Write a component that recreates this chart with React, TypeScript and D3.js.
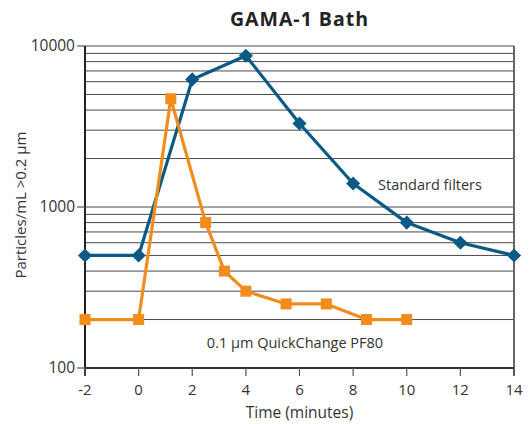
import React from "react";
import * as d3 from "d3";

// Time in minutes
const standardTimes = [-2, 0, 2, 4, 6, 8, 10, 12, 14];
const standardValues = [500, 500, 6200, 8700, 3300, 1400, 800, 600, 500];

const quickTimes = [-2, 0, 1.2, 2.5, 3.2, 4, 5.5, 7, 8.5, 10];
const quickValues = [200, 200, 4700, 800, 400, 300, 250, 250, 200, 200];

const xTicks = [-2, 0, 2, 4, 6, 8, 10, 12, 14];
const yMajorTicks = [100, 1000, 10000];

const W = 531;
const H = 424;
const margin = { top: 46, right: 17, bottom: 56, left: 85 };

const BLUE = "#0b5a85";
const ORANGE = "#f28c1c";
const FONT = "'Open Sans', 'DejaVu Sans', sans-serif";

export default function App() {
  const x = d3.scaleLinear().domain([-2, 14]).range([margin.left, W - margin.right]);
  const y = d3.scaleLog().domain([100, 10000]).range([H - margin.bottom, margin.top]);

  const gridValues: number[] = [];
  for (const base of [100, 1000]) {
    for (let k = 2; k <= 10; k++) gridValues.push(base * k);
  }

  const line = d3
    .line<[number, number]>()
    .x((d) => x(d[0]))
    .y((d) => y(d[1]));

  const standardPts: [number, number][] = standardTimes.map((t, i) => [t, standardValues[i]]);
  const quickPts: [number, number][] = quickTimes.map((t, i) => [t, quickValues[i]]);

  const x0 = margin.left;
  const x1 = W - margin.right;
  const y0 = H - margin.bottom;
  const y1 = margin.top;

  return (
    <svg
      width={W}
      height={H}
      style={{ position: "absolute", left: 0, top: 0, background: "#fff" }}
      fontFamily={FONT}
    >
      <rect width={W} height={H} fill="#fff" />
      <text
        x={(x0 + x1) / 2}
        y={26}
        textAnchor="middle"
        fontSize={19.5}
        fontWeight="bold"
        letterSpacing={1}
        fill="#222"
      >
        GAMA-1 Bath
      </text>

      {/* gridlines */}
      {gridValues.map((v) => (
        <line key={v} x1={x0} x2={x1} y1={y(v)} y2={y(v)} stroke="#4a4a4a" strokeWidth={1} />
      ))}

      {/* frame */}
      <line x1={x0} x2={x0} y1={y1} y2={y0 + 8} stroke="#222" strokeWidth={2} />
      <line x1={x1} x2={x1} y1={y1} y2={y0 + 8} stroke="#666" strokeWidth={2} />
      <line x1={x0} x2={x1} y1={y0} y2={y0} stroke="#333" strokeWidth={2} />

      {/* y axis ticks */}
      {yMajorTicks.map((v) => (
        <g key={v}>
          <line x1={x0 - 8} x2={x0} y1={y(v)} y2={y(v)} stroke="#555" strokeWidth={1.2} />
          <text x={x0 - 10} y={y(v)} dy="0.35em" textAnchor="end" fontSize={15.5} fill="#333">
            {v}
          </text>
        </g>
      ))}

      {/* x axis ticks */}
      {xTicks.map((t) => (
        <g key={t}>
          <line x1={x(t)} x2={x(t)} y1={y0} y2={y0 + 8} stroke="#555" strokeWidth={1.2} />
          <text x={x(t)} y={y0 + 27} textAnchor="middle" fontSize={15} fill="#333">
            {t}
          </text>
        </g>
      ))}

      <text x={(x0 + x1) / 2} y={418} textAnchor="middle" fontSize={15.5} fill="#333">
        Time (minutes)
      </text>
      <text
        transform={`translate(26, 205) rotate(-90)`}
        textAnchor="middle"
        fontSize={15}
        fill="#333"
      >
        Particles/mL &gt;0.2 µm
      </text>

      {/* Standard filters series */}
      <path d={line(standardPts) || ""} fill="none" stroke={BLUE} strokeWidth={3.2} strokeLinejoin="round" />
      {standardPts.map(([t, v], i) => (
        <rect
          key={i}
          x={x(t) - 5}
          y={y(v) - 5}
          width={10}
          height={10}
          fill={BLUE}
          transform={`rotate(45 ${x(t)} ${y(v)})`}
        />
      ))}

      {/* QuickChange series */}
      <path d={line(quickPts) || ""} fill="none" stroke={ORANGE} strokeWidth={3.2} strokeLinejoin="round" />
      {quickPts.map(([t, v], i) => (
        <rect key={i} x={x(t) - 5.5} y={y(v) - 5.5} width={11} height={11} fill={ORANGE} />
      ))}

      <text x={430} y={185} dy="0.35em" textAnchor="middle" fontSize={14.5} fill="#333">
        Standard filters
      </text>
      <text x={295} y={343} dy="0.35em" textAnchor="middle" fontSize={14.5} fill="#333">
        0.1 µm QuickChange PF80
      </text>
    </svg>
  );
}
